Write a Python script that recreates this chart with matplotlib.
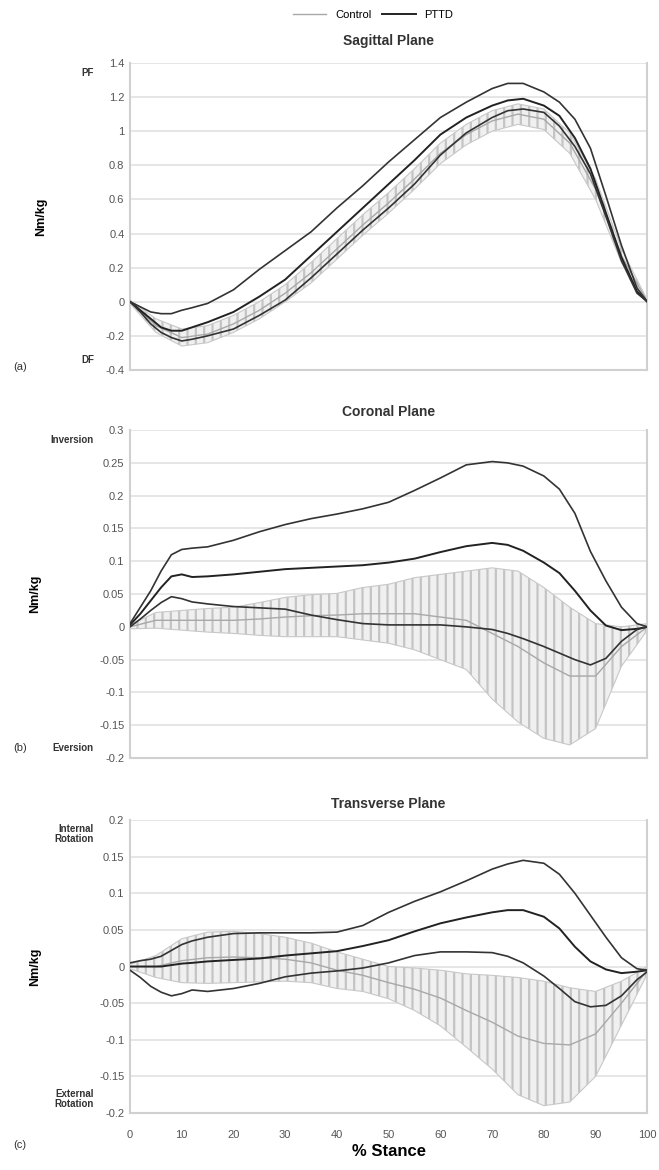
import matplotlib.pyplot as plt

plt.rcParams['font.family'] = ['Liberation Sans', 'DejaVu Sans']
plt.rcParams['hatch.color'] = '#c4c4c4'
plt.rcParams['hatch.linewidth'] = 1.6

# % stance sample points for the PTTD curves
pct = [0, 2, 4, 6, 8, 10, 12, 15, 20, 25, 30, 35, 40, 45, 50, 55, 60, 65,
       70, 73, 76, 80, 83, 86, 89, 92, 95, 98, 100]
# control group sampled every 5 %
pct_ctrl = [0, 5, 10, 15, 20, 25, 30, 35, 40, 45, 50, 55, 60, 65, 70, 75, 80, 85, 90, 95, 100]

# sagittal plane (Nm/kg)
sag_hi = [0, -0.03, -0.06, -0.07, -0.07, -0.05, -0.035, -0.01, 0.07, 0.19, 0.30, 0.41, 0.55, 0.68,
          0.82, 0.95, 1.08, 1.17, 1.25, 1.28, 1.28, 1.23, 1.17, 1.07, 0.90, 0.62, 0.33, 0.08, 0.0]
sag_mid = [0, -0.05, -0.10, -0.15, -0.17, -0.17, -0.15, -0.12, -0.06, 0.03, 0.13, 0.27, 0.41, 0.55,
           0.69, 0.83, 0.98, 1.08, 1.15, 1.18, 1.19, 1.15, 1.09, 0.96, 0.78, 0.52, 0.26, 0.06, 0.0]
sag_lo = [0, -0.06, -0.13, -0.18, -0.21, -0.23, -0.22, -0.20, -0.16, -0.08, 0.01, 0.14, 0.28, 0.42,
          0.55, 0.69, 0.86, 0.99, 1.08, 1.12, 1.13, 1.11, 1.03, 0.91, 0.75, 0.50, 0.24, 0.05, 0.0]
sag_ctrl = [0, -0.14, -0.21, -0.19, -0.13, -0.05, 0.05, 0.17, 0.31, 0.45, 0.58, 0.72, 0.87, 0.98,
            1.06, 1.10, 1.07, 0.93, 0.66, 0.27, 0.0]
sag_ctrl_sd = [0.01, 0.04, 0.05, 0.05, 0.05, 0.05, 0.05, 0.06, 0.06, 0.06, 0.06, 0.06, 0.06, 0.06,
               0.06, 0.06, 0.06, 0.06, 0.06, 0.04, 0.01]

# coronal plane
cor_hi = [0.005, 0.03, 0.055, 0.085, 0.11, 0.118, 0.12, 0.122, 0.132, 0.145, 0.156, 0.165, 0.172, 0.18,
          0.19, 0.208, 0.227, 0.247, 0.252, 0.25, 0.245, 0.23, 0.21, 0.173, 0.115, 0.07, 0.03, 0.005, 0]
cor_mid = [0.003, 0.02, 0.04, 0.06, 0.077, 0.08, 0.076, 0.077, 0.08, 0.084, 0.088, 0.09, 0.092, 0.094,
           0.098, 0.104, 0.114, 0.123, 0.128, 0.125, 0.116, 0.098, 0.082, 0.055, 0.025, 0.002, -0.005, -0.003, 0]
cor_lo = [0, 0.012, 0.025, 0.037, 0.046, 0.043, 0.038, 0.035, 0.031, 0.029, 0.027, 0.018, 0.011, 0.005,
          0.003, 0.003, 0.003, 0.0, -0.004, -0.01, -0.018, -0.03, -0.04, -0.05, -0.058, -0.048, -0.022, -0.004, 0]
cor_ctrl = [0, 0.01, 0.01, 0.01, 0.01, 0.012, 0.015, 0.017, 0.018, 0.02, 0.02, 0.02, 0.015, 0.01,
            -0.01, -0.03, -0.055, -0.075, -0.075, -0.03, 0]
cor_ctrl_sd = [0.003, 0.012, 0.015, 0.018, 0.02, 0.025, 0.03, 0.032, 0.033, 0.04, 0.045, 0.055, 0.065,
               0.075, 0.1, 0.115, 0.115, 0.105, 0.08, 0.03, 0.005]

# transverse plane
tra_hi = [0.005, 0.008, 0.01, 0.014, 0.022, 0.03, 0.035, 0.04, 0.045, 0.046, 0.046, 0.046, 0.047, 0.056,
          0.074, 0.089, 0.102, 0.117, 0.133, 0.14, 0.145, 0.141, 0.126, 0.1, 0.07, 0.04, 0.012, -0.003, -0.005]
tra_mid = [0, 0, 0, 0, 0.002, 0.004, 0.005, 0.007, 0.009, 0.011, 0.015, 0.018, 0.021, 0.028,
           0.036, 0.048, 0.059, 0.067, 0.074, 0.077, 0.077, 0.068, 0.052, 0.027, 0.007, -0.004, -0.009, -0.007, -0.005]
tra_lo = [-0.005, -0.015, -0.027, -0.035, -0.04, -0.037, -0.032, -0.034, -0.03, -0.023, -0.014, -0.009, -0.006,
          -0.002, 0.005, 0.015, 0.02, 0.02, 0.019, 0.014, 0.005, -0.013, -0.03, -0.048, -0.055, -0.053, -0.04,
          -0.018, -0.007]
tra_ctrl = [0, 0.0, 0.008, 0.012, 0.013, 0.012, 0.01, 0.005, -0.005, -0.012, -0.022, -0.031, -0.043, -0.06,
            -0.076, -0.095, -0.105, -0.107, -0.092, -0.05, -0.005]
tra_ctrl_sd = [0.003, 0.015, 0.03, 0.035, 0.035, 0.033, 0.03, 0.027, 0.025, 0.022, 0.022, 0.029, 0.038,
               0.05, 0.064, 0.08, 0.085, 0.078, 0.058, 0.03, 0.005]

x_ticks = [0, 10, 20, 30, 40, 50, 60, 70, 80, 90, 100]

panels = [
    dict(title='Sagittal Plane', hi=sag_hi, mid=sag_mid, lo=sag_lo, c=sag_ctrl, sd=sag_ctrl_sd,
         ylim=(-0.4, 1.4), ticks=[-0.4, -0.2, 0, 0.2, 0.4, 0.6, 0.8, 1, 1.2, 1.4],
         ticklabels=['-0.4', '-0.2', '0', '0.2', '0.4', '0.6', '0.8', '1', '1.2', '1.4'],
         top='PF', bot='DF', tag='(a)', tag_y=0.01, tpad=13, rect=[0.1973, 0.6838, 0.785, 0.2624]),
    dict(title='Coronal Plane', hi=cor_hi, mid=cor_mid, lo=cor_lo, c=cor_ctrl, sd=cor_ctrl_sd,
         ylim=(-0.2, 0.3), ticks=[-0.2, -0.15, -0.1, -0.05, 0, 0.05, 0.1, 0.15, 0.2, 0.25, 0.3],
         ticklabels=['-0.2', '-0.15', '-0.1', '-0.05', '0', '0.05', '0.1', '0.15', '0.2', '0.25', '0.3'],
         top='Inversion', bot='Eversion', tag='(b)', tag_y=0.03, tpad=10,
         rect=[0.1973, 0.3521, 0.785, 0.2803]),
    dict(title='Transverse Plane', hi=tra_hi, mid=tra_mid, lo=tra_lo, c=tra_ctrl, sd=tra_ctrl_sd,
         ylim=(-0.2, 0.2), ticks=[-0.2, -0.15, -0.1, -0.05, 0, 0.05, 0.1, 0.15, 0.2],
         ticklabels=['-0.2', '-0.15', '-0.1', '-0.05', '0', '0.05', '0.1', '0.15', '0.2'],
         top='Internal\nRotation', bot='External\nRotation', tag='(c)', tag_y=-0.11, tpad=9,
         rect=[0.1973, 0.0487, 0.785, 0.2504]),
]

fig = plt.figure(figsize=(6.59, 11.70), dpi=100)

for i, p in enumerate(panels):
    ax = fig.add_axes(p['rect'])
    lower = [m - s for m, s in zip(p['c'], p['sd'])]
    upper = [m + s for m, s in zip(p['c'], p['sd'])]
    ax.fill_between(pct_ctrl, lower, upper, facecolor='#f0f0f0', edgecolor='#c4c4c4',
                    hatch='||', linewidth=0, zorder=1)
    ax.plot(pct_ctrl, lower, color='#c8c8c8', lw=0.8, zorder=2)
    ax.plot(pct_ctrl, upper, color='#c8c8c8', lw=0.8, zorder=2)
    ax.plot(pct_ctrl, p['c'], color='#a8a8a8', lw=1.0, zorder=2, label='Control')
    ax.plot(pct, p['mid'], color='#222222', lw=1.4, zorder=3, label='PTTD')
    ax.plot(pct, p['hi'], color='#333333', lw=1.2, zorder=3)
    ax.plot(pct, p['lo'], color='#333333', lw=1.2, zorder=3)

    ax.set_xlim(0, 100)
    ax.set_ylim(*p['ylim'])
    ax.set_yticks(p['ticks'])
    ax.set_yticklabels(p['ticklabels'])
    ax.set_xticks(x_ticks)
    ax.yaxis.grid(True, color='#e2e2e2', lw=1.2)
    ax.set_axisbelow(True)
    ax.tick_params(axis='both', length=0, labelsize=8, colors='#555555', pad=4)
    for side in ['left', 'bottom', 'right']:
        ax.spines[side].set_color('#d0d0d0')
        ax.spines[side].set_linewidth(1.5)
    ax.spines['top'].set_visible(False)
    if i < 2:
        ax.set_xticklabels([])
    else:
        ax.tick_params(axis='x', pad=12)
        ax.set_xlabel('% Stance', fontsize=12, fontweight='bold', labelpad=3)

    ax.set_title(p['title'], fontsize=10, fontweight='bold', color='#333333', pad=p['tpad'])
    ax.set_ylabel('Nm/kg', fontsize=9, fontweight='bold', labelpad=42)
    ax.text(-0.07, 0.985, p['top'], transform=ax.transAxes, fontsize=7, fontweight='bold',
            ha='right', va='top', linespacing=1.0, color='#333333')
    ax.text(-0.07, 0.015, p['bot'], transform=ax.transAxes, fontsize=7, fontweight='bold',
            ha='right', va='bottom', linespacing=1.0, color='#333333')
    ax.text(-0.225, p['tag_y'], p['tag'], transform=ax.transAxes, fontsize=8, ha='left',
            va='center', color='#333333')
    if i == 0:
        ax.legend(loc='center', bbox_to_anchor=(0.47, 1.155), ncol=2, frameon=False,
                  fontsize=8, handlelength=3, columnspacing=1.0, borderaxespad=0)

fig.savefig('out.png', dpi=100)
